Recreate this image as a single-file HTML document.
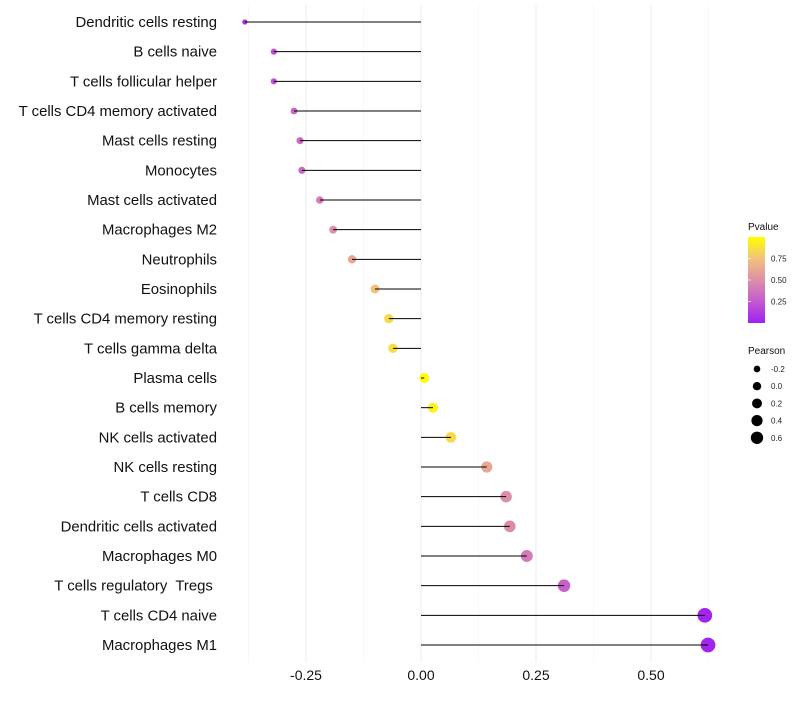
<!DOCTYPE html>
<html><head><meta charset="utf-8"><style>
body{margin:0;background:#fff;font-family:"Liberation Sans",sans-serif}
</style></head><body>
<svg id="chart" width="800" height="700" xmlns="http://www.w3.org/2000/svg" font-family="Liberation Sans, sans-serif">
<defs><linearGradient id="pg" x1="0" y1="1" x2="0" y2="0">
<stop offset="0" stop-color="#a020f0"/><stop offset="0.25" stop-color="#c45ad0"/><stop offset="0.5" stop-color="#de8fa8"/><stop offset="0.75" stop-color="#f2c27c"/><stop offset="1" stop-color="#ffff00"/></linearGradient></defs>
<g id="grid"></g>
<g id="dots"></g>
<g id="marks"></g>
<g id="labels"></g>
<g id="xt"></g>
<g>
<text x="748" y="230" font-size="10" fill="#111">Pvalue</text>
<rect x="748" y="237" width="17" height="86" fill="url(#pg)"/>
<g id="pleg"></g>
</g>
<g>
<text x="748" y="354" font-size="10" fill="#111">Pearson</text>
<g id="sleg"></g>
</g>
</svg>
<script>
const categories=["Dendritic cells resting","B cells naive","T cells follicular helper","T cells CD4 memory activated","Mast cells resting","Monocytes","Mast cells activated","Macrophages M2","Neutrophils","Eosinophils","T cells CD4 memory resting","T cells gamma delta","Plasma cells","B cells memory","NK cells activated","NK cells resting","T cells CD8","Dendritic cells activated","Macrophages M0","T cells regulatory  Tregs ","T cells CD4 naive","Macrophages M1"];
const pearson=[-0.383,-0.320,-0.320,-0.276,-0.263,-0.259,-0.220,-0.191,-0.150,-0.100,-0.070,-0.061,0.007,0.026,0.065,0.143,0.185,0.193,0.230,0.311,0.617,0.624];
const pvalue=[0.08,0.22,0.22,0.30,0.32,0.32,0.42,0.50,0.62,0.75,0.85,0.86,0.99,0.95,0.85,0.62,0.50,0.48,0.40,0.28,0.02,0.02];
const xTicks=[-0.25,0,0.25,0.5];
const xTickLabels=["-0.25","0.00","0.25","0.50"];
const xMinor=[-0.375,-0.125,0.125,0.375,0.625];
const pLegTicks=[0.25,0.5,0.75];
const sLegVals=[-0.2,0,0.2,0.4,0.6];
const NS="http://www.w3.org/2000/svg";
const x=v=>421+v*460;
const y=i=>22+i*(623/21);
const r=v=>Math.sqrt(Math.max(2,19.75+37.5*v));
const stops=[[0,[160,32,240]],[0.25,[196,90,208]],[0.5,[222,143,168]],[0.75,[242,194,124]],[1,[255,255,0]]];
function col(p){for(let k=1;k<stops.length;k++){if(p<=stops[k][0]){const a=stops[k-1],b=stops[k],t=(p-a[0])/(b[0]-a[0]);return 'rgb('+a[1].map((c,j)=>Math.round(c+(b[1][j]-c)*t)).join(',')+')';}}return 'rgb(255,255,0)';}
function mk(tag,at,parent){const e=document.createElementNS(NS,tag);for(const k in at)e.setAttribute(k,at[k]);document.getElementById(parent).appendChild(e);return e;}
xMinor.forEach(v=>{const e=mk('line',{x1:x(v),x2:x(v),y1:5,y2:662,stroke:'#f3f3f3','stroke-width':0.6},'grid');

});
xTicks.forEach((v,i)=>{const e=mk('line',{x1:x(v),x2:x(v),y1:5,y2:662,stroke:'#ebebeb','stroke-width':1},'grid');


const t=mk('text',{x:x(v),y:680,'font-size':14,'text-anchor':'middle',fill:'#111'},'xt');t.textContent=xTickLabels[i];

});
categories.forEach((c,i)=>{const t=mk('text',{x:217,y:y(i)+5,'font-size':14.9,'text-anchor':'end',fill:'#111','xml:space':'preserve'},'labels');t.style.whiteSpace='pre';t.textContent=c;


const d=mk('circle',{cx:x(pearson[i]),cy:y(i),r:r(pearson[i])*1.12,fill:col(pvalue[i])},'dots');


const l=mk('line',{x1:x(0),x2:x(pearson[i]),y1:y(i),y2:y(i),stroke:'#000','stroke-width':1},'marks');

});
pLegTicks.forEach(p=>{const yy=323-p*86;
const t=mk('text',{x:771,y:yy+3,'font-size':8,fill:'#222'},'pleg');t.textContent=p.toFixed(2);


const l=mk('line',{x1:748,x2:751,y1:yy,y2:yy,stroke:'#fff','stroke-width':0.6},'pleg');

});
sLegVals.forEach((v,i)=>{const yy=369+i*17.2;
const c=mk('circle',{cx:757,cy:yy,r:r(v)*0.95,fill:'#000'},'sleg');


const t=mk('text',{x:771,y:yy+3,'font-size':8,fill:'#222'},'sleg');t.textContent=v.toFixed(1);

});
</script>
</body></html>
